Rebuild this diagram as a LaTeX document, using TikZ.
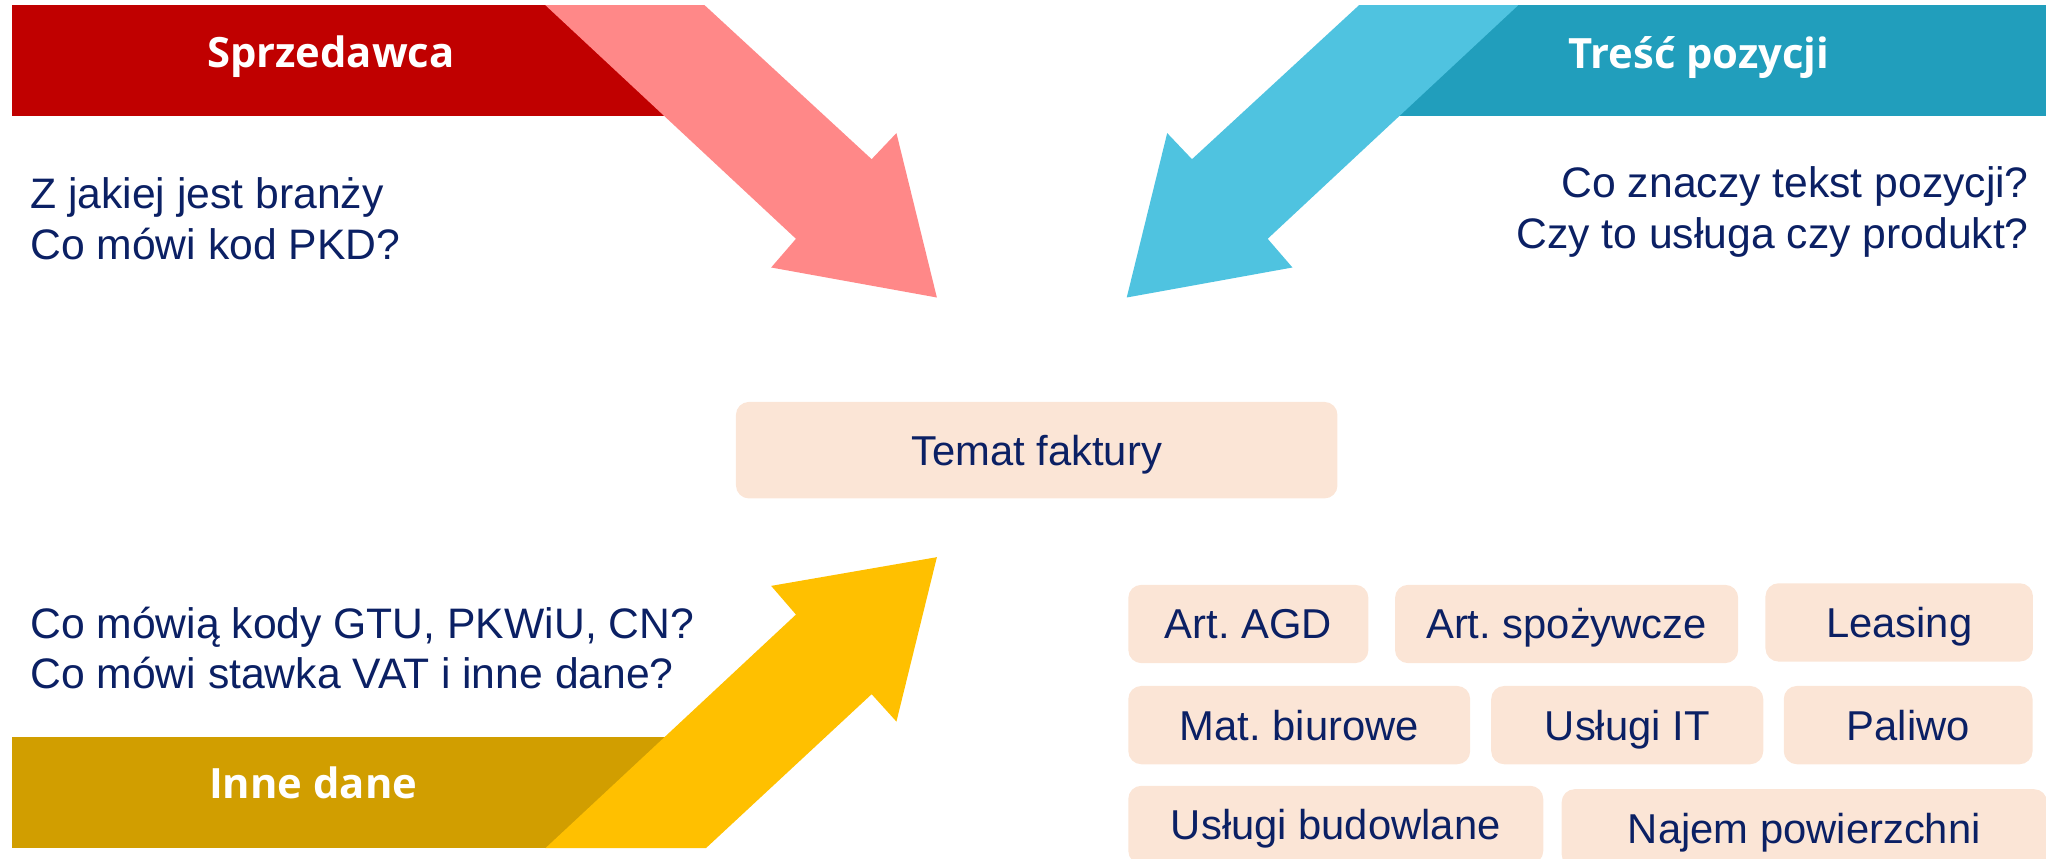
\documentclass[tikz,border=0pt]{standalone}
\usepackage{fontspec}
\setmainfont{Liberation Sans}
\newfontfamily\headfont{Open Sans}
\usepackage{xcolor}
\usetikzlibrary{positioning}

\definecolor{navy}{HTML}{0B2064}
\definecolor{sellerred}{HTML}{C00000}
\definecolor{sellerpink}{HTML}{FF8888}
\definecolor{itemteal}{HTML}{219EBC}
\definecolor{itemblue}{HTML}{4FC3E0}
\definecolor{othergold}{HTML}{D19E00}
\definecolor{otheryellow}{HTML}{FFC000}
\definecolor{peach}{HTML}{FBE5D6}

\begin{document}
\frenchspacing
\begin{tikzpicture}[
  x=1pt, y=-1pt,
  question/.style={text=navy, font=\fontsize{32.7}{39}\selectfont, inner sep=0pt, align=left},
  bannertext/.style={text=white, font=\headfont\bfseries\fontsize{32}{38}\selectfont, inner sep=0pt, anchor=base},
  topic/.style={fill=peach, rounded corners=10pt, text=navy, font=\fontsize{32}{38}\selectfont, text height=23pt, text depth=0pt, minimum height=60pt, inner sep=0pt}
]
\useasboundingbox (0,0) rectangle (1568,658);

\fill[sellerred] (9,4) rectangle (530,89);
\fill[itemteal] (1051.5,4) rectangle (1568,89);
\fill[othergold] (9,565) rectangle (530,650);

\fill[sellerpink] (418,4) -- (540,4) -- (668,122) -- (687,102) -- (718,228) -- (591,205) -- (610,183) -- cycle;
\fill[itemblue] (1163.5,4) -- (1041.5,4) -- (913.5,122) -- (894.5,102) -- (863.5,228) -- (990.5,205) -- (971.5,183) -- cycle;
\fill[otheryellow] (418,650) -- (541,650) -- (668,532) -- (687,553) -- (718,427) -- (591,449) -- (610,471) -- cycle;

\node[bannertext] (seller) at (253.5,52) {Sprzedawca};
\node[bannertext] (item) at (1302,52.4) {Treść pozycji};
\node[bannertext] (other) at (240,612) {Inne dane};

\node[question, anchor=base west] (sellerq) at (23,199) {Z jakiej jest branży\\Co mówi kod PKD?};
\node[question, anchor=base east, align=right] (itemq) at (1555,190.2) {Co znaczy tekst pozycji?\\Czy to usługa czy produkt?};
\node[question, anchor=base west] (otherq) at (23,528) {Co mówią kody GTU, PKWiU, CN?\\Co mówi stawka VAT i inne dane?};

\node[topic, minimum width=461pt, minimum height=74pt] (temat) at (794.5,345) {Temat faktury};

\node[topic, minimum width=184pt, anchor=north west] (agd) at (864.5,448) {Art. AGD};
\node[topic, minimum width=263pt, right=20pt of agd] (food) {Art. spożywcze};
\node[topic, minimum width=205pt, right=20.5pt of food, yshift=1.2pt] (leasing) {Leasing};

\node[topic, minimum width=262pt, anchor=north west] (office) at (864.5,525.5) {Mat. biurowe};
\node[topic, minimum width=208.5pt, right=15.7pt of office] (it) {Usługi IT};
\node[topic, minimum width=190.7pt, right=15.3pt of it] (fuel) {Paliwo};

\node[topic, minimum width=318pt, anchor=north west] (build) at (864.5,602) {Usługi budowlane};
\node[topic, minimum width=372pt, right=13.7pt of build, yshift=-2.6pt] (rent) {Najem powierzchni};
\end{tikzpicture}
\end{document}
